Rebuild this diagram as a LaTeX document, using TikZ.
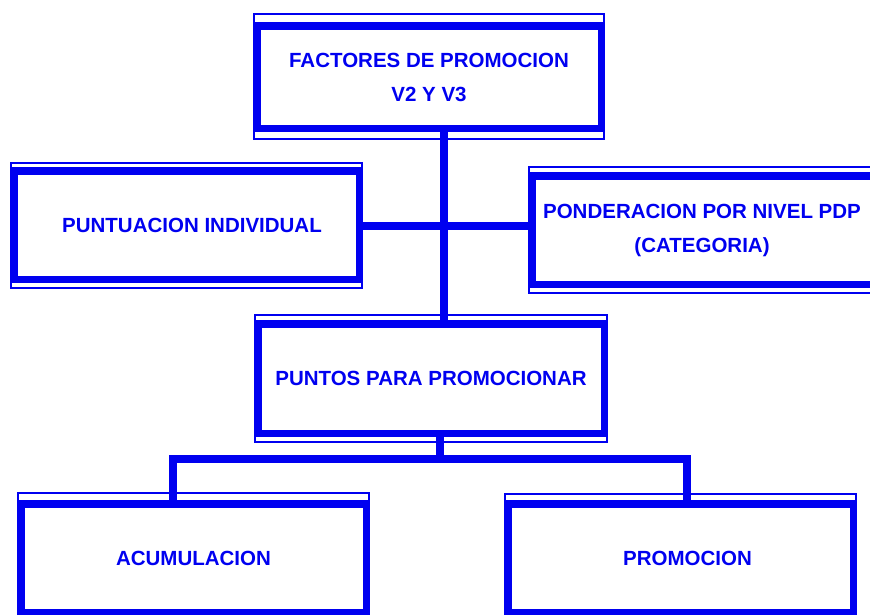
\documentclass[tikz,border=0pt]{standalone}
\usepackage{fontspec}
\setmainfont{Liberation Sans}
\usepackage{tikz}
\definecolor{azul}{RGB}{0,0,240}

\begin{document}
\begin{tikzpicture}[x=1pt, y=-1pt,
    caja/.style={draw=azul, line width=7.5pt, text=azul, align=center,
        font=\fontsize{20.5}{34}\selectfont\bfseries, inner sep=0pt},
    marco/.style={draw=azul, line width=2pt},
    enlace/.style={draw=azul, line width=7.5pt}]
    \useasboundingbox (0,0) rectangle (870,614);
    \clip (0,0) rectangle (870,614);

    % The boxes
    \node[caja, minimum width=344.5pt, minimum height=102.5pt] (fact) at (429,77) {FACTORES DE PROMOCION\\V2 Y V3};
    \node[caja, minimum width=345.5pt, minimum height=108.5pt] (indiv) at (186.5,225) {\hspace*{11pt}PUNTUACION INDIVIDUAL};
    \node[caja, minimum width=344.5pt, minimum height=108.5pt] (pond) at (704,230) {\hspace*{-4pt}PONDERACION POR NIVEL PDP\\\hspace*{-4pt}(CATEGORIA)};
    \node[caja, minimum width=346.5pt, minimum height=109.5pt] (puntos) at (431,378.5) {PUNTOS PARA PROMOCIONAR};
    \node[caja, minimum width=345.5pt, minimum height=108.5pt] (acum) at (193.5,558) {ACUMULACION};
    \node[caja, minimum width=345.5pt, minimum height=108.5pt] (promo) at (680.5,558) {\hspace*{14pt}PROMOCION};

    % Thin outer frames
    \foreach \n/\a/\b in {fact/8/7, indiv/4.5/5, pond/5/4.5, puntos/5/4.5, acum/7/0, promo/6/0}
        \draw[marco] ([xshift=1pt, yshift=\a pt]\n.north west) rectangle ([xshift=-1pt, yshift=-\b pt]\n.south east);

    % Connectors
    \coordinate (eje) at (444,226);
    \coordinate (rama) at (440,459);
    \coordinate (izq) at (173,459);
    \coordinate (der) at (687,459);
    \draw[enlace] (fact.south -| eje) -- (puntos.north -| eje);
    \draw[enlace] (indiv.east |- eje) -- (pond.west |- eje);
    \draw[enlace] (puntos.south -| rama) -- (rama);
    \draw[enlace] (acum.north -| izq) -- (izq) -- (der) -- (promo.north -| der);
\end{tikzpicture}
\end{document}
